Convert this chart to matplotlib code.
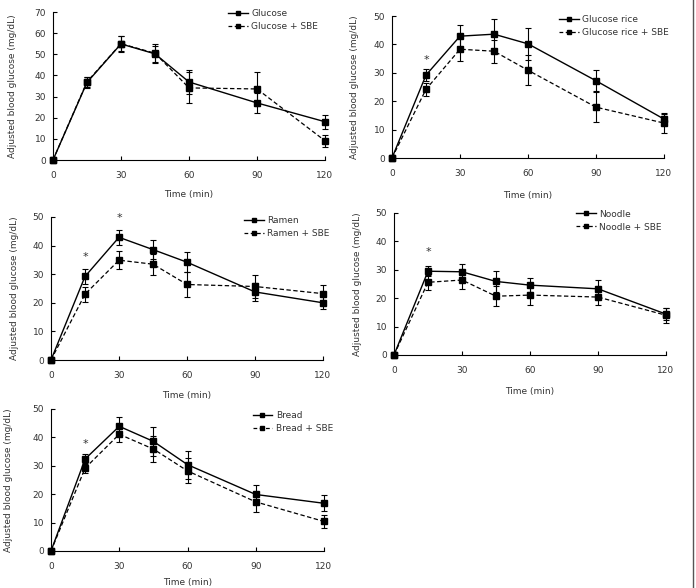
import matplotlib
matplotlib.use("Agg")
import matplotlib.pyplot as plt
from matplotlib.lines import Line2D

plt.rcParams['font.family'] = ['DejaVu Sans']

time = [0, 15, 30, 45, 60, 90, 120]

glucose = [0, 36.7, 54.9, 50.2, 36.9, 27.0, 18.1]
glucose_err = [0, 2.6, 3.8, 3.8, 5.7, 4.8, 3.4]
glucose_sbe = [0, 37.0, 55.0, 50.5, 34.1, 33.6, 9.1]
glucose_sbe_err = [0, 2.4, 3.6, 4.5, 7.3, 8.2, 2.9]

rice = [0, 29.2, 42.9, 43.6, 40.2, 27.2, 13.7]
rice_err = [0, 2.1, 4.1, 5.2, 5.6, 3.7, 1.9]
rice_sbe = [0, 24.2, 38.3, 37.6, 30.9, 17.9, 12.3]
rice_sbe_err = [0, 2.2, 4.2, 4.0, 5.3, 5.3, 3.5]

ramen = [0, 29.2, 42.9, 38.6, 34.2, 23.8, 20.0]
ramen_err = [0, 2.7, 2.6, 3.2, 3.4, 3.0, 2.3]
ramen_sbe = [0, 23.0, 34.9, 33.5, 26.4, 25.7, 23.2]
ramen_sbe_err = [0, 2.6, 3.2, 3.7, 4.2, 3.9, 2.9]

noodle = [0, 29.5, 29.3, 25.9, 24.6, 23.3, 14.4]
noodle_err = [0, 1.7, 2.9, 3.6, 2.5, 3.2, 2.0]
noodle_sbe = [0, 25.6, 26.4, 20.7, 21.1, 20.4, 14.0]
noodle_sbe_err = [0, 2.7, 3.2, 3.5, 3.6, 2.9, 2.6]

bread = [0, 32.4, 43.9, 38.6, 30.4, 19.9, 16.8]
bread_err = [0, 1.7, 3.3, 5.0, 4.9, 3.2, 2.8]
bread_sbe = [0, 29.2, 41.1, 35.9, 28.2, 17.3, 10.4]
bread_sbe_err = [0, 1.7, 2.7, 4.5, 4.4, 3.5, 2.2]

x_ticks = [0, 30, 60, 90, 120]
W, H = 696, 588
TXT = '#333333'

panels = [
    ("Glucose", glucose, glucose_err, glucose_sbe, glucose_sbe_err, 70, range(0, 71, 10),
     (53, 325, 12, 160), 0.63, 1.045, [], -0.132, -0.205),
    ("Glucose rice", rice, rice_err, rice_sbe, rice_sbe_err, 50, range(0, 51, 10),
     (392, 664, 16, 158), 0.60, 1.03, [(15, 34.5)], -0.12, -0.23),
    ("Ramen", ramen, ramen_err, ramen_sbe, ramen_sbe_err, 50, range(0, 51, 10),
     (51, 323, 217, 360), 0.695, 1.03, [(15, 36.0), (30, 49.6)], -0.118, -0.215),
    ("Noodle", noodle, noodle_err, noodle_sbe, noodle_sbe_err, 50, range(0, 51, 10),
     (394, 666, 213, 355), 0.655, 1.05, [(15, 36.1)], -0.118, -0.225),
    ("Bread", bread, bread_err, bread_sbe, bread_sbe_err, 50, range(0, 51, 10),
     (51, 324, 409, 551), 0.725, 1.01, [(15, 37.6)], -0.14, -0.19),
]

fig = plt.figure(figsize=(W / 100, H / 100), dpi=100)

for (name, s, se, d, de, ymax, yt, (l, r, t, b), lx, ly, stars, ylx, xly) in panels:
    ax = fig.add_axes([l / W, 1 - b / H, (r - l) / W, (b - t) / H])
    ax.errorbar(time, d, yerr=de, color='black', lw=0.9, ls=(0, (3.5, 2)),
                marker='s', ms=4.5, capsize=2.5, elinewidth=0.8, capthick=0.8,
                clip_on=False, zorder=3)
    ax.errorbar(time, s, yerr=se, color='black', lw=1.0, ls='-',
                marker='s', ms=4.5, capsize=2.5, elinewidth=0.8, capthick=0.8,
                clip_on=False, zorder=4)
    for (sx, sy) in stars:
        ax.text(sx, sy, '*', ha='center', va='center', fontsize=8, color=TXT)
    ax.set_xlim(0, 120)
    ax.set_ylim(0, ymax)
    ax.set_xticks(x_ticks)
    ax.set_yticks(list(yt))
    ax.tick_params(direction='in', length=3, width=0.8, labelsize=6.5,
                   labelcolor=TXT, pad=5)
    ax.tick_params(axis='x', pad=8)
    for sp in ('top', 'right'):
        ax.spines[sp].set_visible(False)
    for sp in ('left', 'bottom'):
        ax.spines[sp].set_linewidth(0.8)
    ax.set_ylabel('Adjusted blood glucose (mg/dL)', fontsize=6.5, color=TXT)
    ax.yaxis.set_label_coords(ylx, 0.5)
    ax.set_xlabel('Time (min)', fontsize=6.5, color=TXT)
    ax.xaxis.set_label_coords(0.5, xly)
    handles = [
        Line2D([], [], color='black', lw=1.0, ls='-', marker='s', ms=3.5),
        Line2D([], [], color='black', lw=0.9, ls=(0, (3, 2)), marker='s', ms=3.5),
    ]
    ax.legend(handles, [name, name + ' + SBE'], loc='upper left',
              bbox_to_anchor=(lx, ly), frameon=False, fontsize=6.5,
              handlelength=2.2, handletextpad=0.4, labelspacing=0.45,
              borderaxespad=0, labelcolor=TXT)

fig.add_artist(Line2D([693 / W, 693 / W], [0, 1], color='#555555', lw=1.0,
                      transform=fig.transFigure))

fig.savefig('out.png', dpi=100)
